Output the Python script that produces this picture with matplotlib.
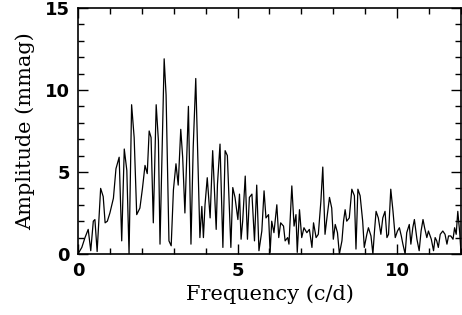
import matplotlib
matplotlib.use('Agg')
import matplotlib.pyplot as plt
from matplotlib.ticker import MultipleLocator

# turning points of the amplitude spectrum
freq = [0.00, 0.12, 0.22, 0.32, 0.40, 0.48, 0.53, 0.60, 0.71, 0.79,
        0.85, 0.92, 1.00, 1.11, 1.19, 1.29, 1.37, 1.45, 1.53, 1.60,
        1.68, 1.76, 1.84, 1.94, 2.02, 2.10, 2.17, 2.23, 2.29, 2.36,
        2.45, 2.52, 2.57, 2.70, 2.76, 2.85, 2.92, 2.99, 3.07, 3.14,
        3.22, 3.28, 3.35, 3.46, 3.54, 3.61, 3.69, 3.77, 3.82, 3.88,
        3.93, 3.98, 4.05, 4.14, 4.22, 4.33, 4.37, 4.45, 4.54, 4.61,
        4.68, 4.71, 4.79, 4.85, 4.92, 5.01, 5.06, 5.11, 5.16, 5.24,
        5.31, 5.37, 5.45, 5.53, 5.60, 5.67, 5.76, 5.83, 5.89, 5.97,
        6.02, 6.07, 6.14, 6.23, 6.29, 6.35, 6.44, 6.49, 6.57, 6.61,
        6.70, 6.77, 6.83, 6.87, 6.94, 7.01, 7.08, 7.17, 7.25, 7.33,
        7.38, 7.46, 7.53, 7.61, 7.67, 7.74, 7.80, 7.88, 7.95, 8.00,
        8.06, 8.13, 8.19, 8.27, 8.32, 8.37, 8.42, 8.50, 8.58, 8.66,
        8.71, 8.77, 8.84, 8.92, 8.97, 9.05, 9.10, 9.18, 9.24, 9.29,
        9.34, 9.41, 9.49, 9.55, 9.62, 9.68, 9.73, 9.80, 9.87, 9.94,
        10.01, 10.07, 10.13, 10.18, 10.25, 10.30, 10.38, 10.43, 10.49, 10.54,
        10.62, 10.69, 10.75, 10.81, 10.86, 10.93, 10.98, 11.07, 11.14, 11.19,
        11.24, 11.29, 11.35, 11.43, 11.50, 11.56, 11.61, 11.68, 11.75, 11.80,
        11.85, 11.90, 11.96, 12.00]
amp = [0.0, 0.4, 1.0, 1.5, 0.2, 2.0, 2.1, 0.15, 4.0, 3.5,
       1.9, 2.0, 2.5, 3.4, 5.2, 5.9, 0.8, 6.4, 5.1, 0.0,
       9.1, 7.1, 2.4, 2.8, 4.0, 5.4, 4.9, 7.5, 7.1, 1.9,
       9.1, 6.9, 0.6, 11.9, 9.7, 0.8, 0.5, 3.9, 5.5, 4.2,
       7.6, 5.9, 2.5, 9.0, 0.6, 6.5, 10.7, 4.85, 1.0, 2.9,
       1.0, 3.0, 4.65, 2.2, 6.3, 1.5, 4.25, 6.7, 0.4, 6.3,
       6.0, 4.45, 0.4, 4.05, 3.45, 2.1, 3.65, 0.9, 2.0, 4.75,
       0.9, 3.45, 3.65, 0.8, 4.2, 0.2, 1.4, 3.85, 2.2, 2.4,
       0.1, 2.0, 1.3, 3.0, 1.0, 1.9, 1.7, 0.8, 1.0, 0.6,
       4.15, 1.7, 2.4, 0.1, 2.7, 1.0, 1.6, 1.3, 1.5, 0.4,
       1.9, 1.0, 1.2, 3.2, 5.3, 1.2, 2.2, 3.45, 2.8, 0.9,
       1.8, 1.3, 0.0, 0.8, 2.0, 2.7, 2.0, 2.2, 3.95, 3.55,
       0.3, 3.95, 3.55, 2.0, 0.4, 1.2, 1.6, 1.1, 0.0, 1.4,
       2.6, 2.2, 1.2, 2.2, 2.6, 1.0, 1.2, 3.95, 2.6, 1.0,
       1.4, 1.6, 1.1, 0.6, 0.0, 1.3, 1.8, 0.6, 1.6, 2.1,
       0.9, 0.2, 1.4, 2.1, 1.6, 1.0, 1.4, 0.9, 0.2, 1.0,
       0.8, 0.4, 1.2, 1.4, 1.2, 0.6, 1.1, 1.1, 0.9, 1.6,
       1.2, 2.6, 1.3, 0.1]

xticks = [0, 5, 10]
yticks = [0, 5, 10, 15]

fig = plt.figure(figsize=(4.62, 3.15), dpi=100)
ax = fig.add_axes([0.1688, 0.1937, 0.829, 0.781])
ax.plot(freq, amp, color='black', lw=0.9)

ax.set_xlim(0, 12)
ax.set_ylim(0, 15)
ax.set_xticks(xticks)
ax.set_yticks(yticks)
ax.xaxis.set_minor_locator(MultipleLocator(1))
ax.yaxis.set_minor_locator(MultipleLocator(1))
ax.tick_params(which='both', direction='in', top=True, right=True, width=1)
ax.tick_params(which='major', length=7, labelsize=13, pad=6)
ax.tick_params(which='minor', length=4)
for lab in ax.get_xticklabels() + ax.get_yticklabels():
    lab.set_fontweight('bold')
for s in ax.spines.values():
    s.set_linewidth(1.2)

ax.set_xlabel('Frequency (c/d)', family='DejaVu Serif', fontsize=15, labelpad=3)
ax.set_ylabel('Amplitude (mmag)', family='DejaVu Serif', fontsize=15, labelpad=7)

fig.savefig('out.png', dpi=100)
